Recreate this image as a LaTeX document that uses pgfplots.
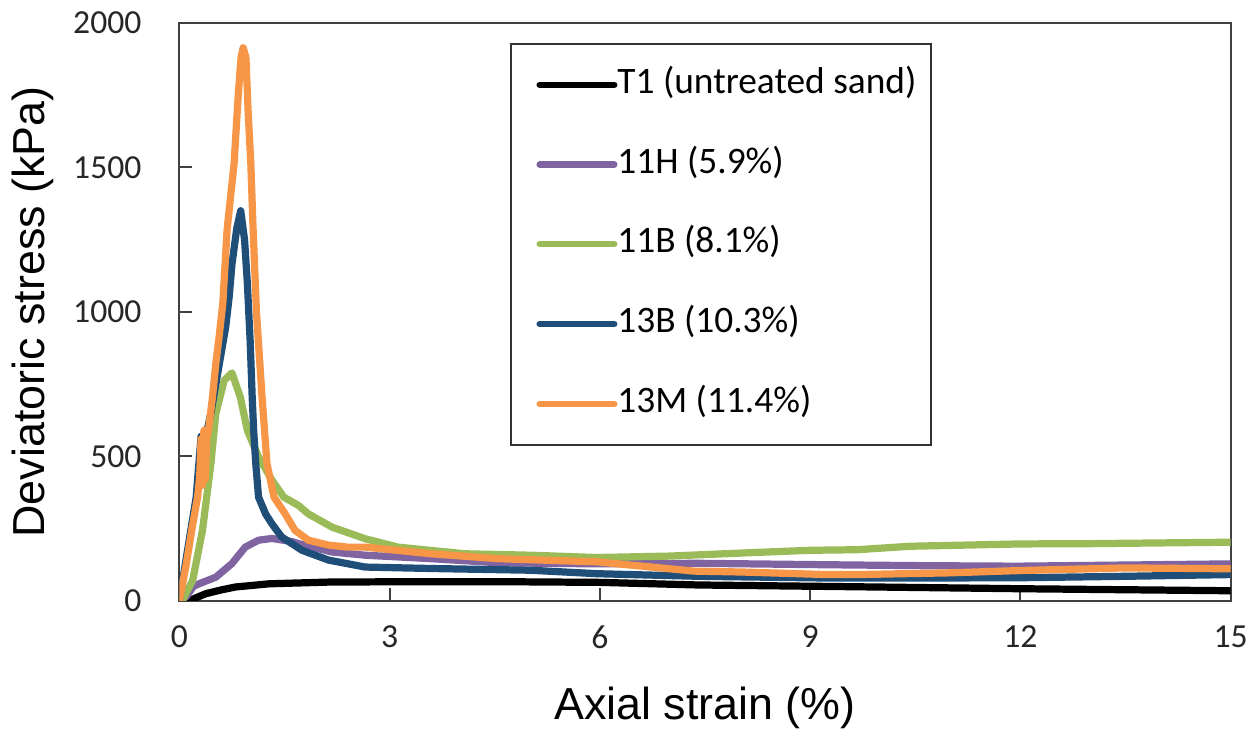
\documentclass[border=0pt]{standalone}
\usepackage{fontspec}
\setmainfont{Carlito}
\newfontfamily\arialfont{Liberation Sans}
\usepackage{pgfplots}
\pgfplotsset{compat=1.18}
\definecolor{cT}{HTML}{000000}
\definecolor{cH}{HTML}{8064A2}
\definecolor{cG}{HTML}{9BBB59}
\definecolor{cB}{HTML}{1F4E79}
\definecolor{cO}{HTML}{F79646}
\begin{document}
\begin{tikzpicture}
\begin{axis}[
  scale only axis,
  width=422pt, height=232pt,
  xmin=0, xmax=15, ymin=0, ymax=2000,
  xtick={0,3,...,15}, ytick={0,500,...,2000},
  xtick pos=bottom, ytick pos=left,
  tick align=inside, major tick length=5pt,
  axis line style={draw=black!75, line width=0.8pt},
  every tick/.style={black!75, line width=0.8pt},
  /pgf/number format/assume math mode=true,
  /pgf/number format/1000 sep={},
  ticklabel style={font=\fontsize{13.5pt}{15pt}\selectfont, text=black!85},
  xticklabel style={yshift=-6.5pt},
  yticklabel style={xshift=-11.7pt},
  xlabel={Axial strain (\%)},
  ylabel={Deviatoric stress (kPa)},
  xlabel style={font=\arialfont\fontsize{18pt}{20pt}\selectfont, at={(axis description cs:0.5,-0.1845)}, anchor=center},
  ylabel style={font=\arialfont\fontsize{18pt}{20pt}\selectfont, at={(axis description cs:-0.1393,0.5)}, anchor=center},
  legend style={
    at={(0.3147,0.9655)}, anchor=north west,
    draw=black!80, line width=0.7pt,
    font=\fontsize{15pt}{17pt}\selectfont,
    inner xsep=6pt, inner ysep=10pt,
    row sep=19pt, column sep=0pt,
    nodes={inner sep=0pt, text height=10pt, text depth=3pt},
  },
  legend cell align=left,
  legend image code/.code={\path (0pt,0pt); \draw[#1, line width=2.5pt] (4pt,0pt) -- (34pt,0pt);},
  every axis plot/.append style={line width=2.9pt, line join=round, line cap=round},
]
\addplot[cT] coordinates {
(0,0) (0.14,0) (0.25,12) (0.38,25) (0.6,38) (0.8,48) (1.28,59) (2.13,65) (3,66)
(4.8,66) (6,64) (7.4,55) (9.24,50) (12,42) (15,35)};
\addlegendentry{T1 (untreated sand)}
\addplot[cH] coordinates {
(0,0) (0.1,15) (0.2,50) (0.28,59) (0.52,82) (0.75,129) (0.94,186) (1.13,210) (1.32,216)
(1.61,205) (1.7,198) (2.18,169) (2.65,158) (3.59,146) (4.54,132) (5.96,128) (7.4,130)
(9.24,125) (10.5,122) (11.95,120) (13.5,124) (15,128)};
\addlegendentry{11H (5.9\%)}
\addplot[cG] coordinates {
(0,0) (0.05,5) (0.19,71) (0.33,244) (0.45,475) (0.52,648) (0.64,763) (0.75,789)
(0.87,705) (0.97,590) (1.13,498) (1.32,418) (1.49,359) (1.7,330) (1.84,301) (2.18,255)
(2.65,215) (3.12,186) (4.07,163) (5.01,158) (5.96,150) (7,155) (7.97,165) (9,175)
(9.67,177) (10.43,189) (12,197) (13,198) (15,203)};
\addlegendentry{11B (8.1\%)}
\addplot[cB] coordinates {
(0,0) (0.1,150) (0.24,359) (0.31,570) (0.34,570) (0.37,560) (0.45,650) (0.57,820)
(0.66,946) (0.71,1050) (0.75,1164) (0.82,1290) (0.875,1350) (0.93,1250) (0.97,1100)
(1.01,900) (1.04,700) (1.06,590) (1.09,475) (1.13,359) (1.23,301) (1.32,267) (1.46,221)
(1.75,175) (2.13,141) (2.65,117) (3.59,112) (5.01,106) (5.96,94) (7.4,85) (9.24,79)
(10.5,79) (12,80) (13.5,85) (15,91)};
\addlegendentry{13B (10.3\%)}
\addplot[cO] coordinates {
(0,0) (0.1,129) (0.18,250) (0.26,359) (0.29,430) (0.31,560) (0.33,400) (0.35,590)
(0.37,420) (0.39,560) (0.42,600) (0.47,700) (0.52,820) (0.57,920) (0.62,1030)
(0.68,1281) (0.74,1420) (0.78,1510) (0.84,1750) (0.88,1880) (0.91,1914) (0.95,1880)
(0.98,1700) (1.02,1510) (1.05,1300) (1.1,1000) (1.18,705) (1.25,475) (1.35,359)
(1.51,301) (1.65,244) (1.84,210) (2.13,193) (2.4,186) (2.65,186) (3.1,175) (3.59,163)
(4.54,146) (5.96,135) (7.34,103) (8,100) (9.24,91) (9.67,91) (11,97) (12,105)
(13.5,114) (15,111)};
\addlegendentry{13M (11.4\%)}
\end{axis}
\path (current axis.south west) ++(-72pt,-52pt);
\path (current axis.north east) ++(8.4pt,9.2pt);
\end{tikzpicture}
\end{document}
